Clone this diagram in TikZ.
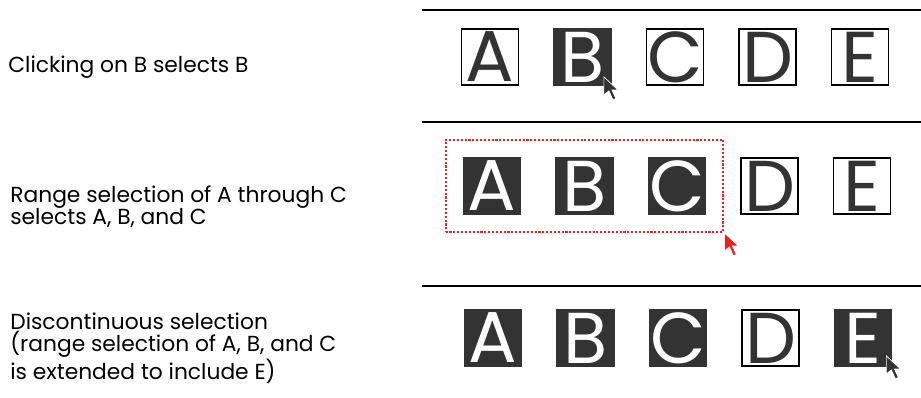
\documentclass[tikz,border=0pt]{standalone}
\usepackage{fontspec}
\setmainfont{Poppins}
\usetikzlibrary{fit}
\definecolor{selgray}{HTML}{333333}
\definecolor{pickred}{HTML}{F02020}

\begin{document}
\begin{tikzpicture}[x=0.02cm, y=-0.02cm,
    keybox/.style={draw=black, line width=1pt, fill=white, text=selgray,
      minimum width=1.14cm, minimum height=1.12cm, inner sep=0pt,
      font=\fontsize{41}{41}\selectfont},
    keysel/.style={keybox, draw=selgray, fill=selgray, text=white},
    caption/.style={anchor=west, align=left, inner sep=0pt,
      font=\fontsize{12.4}{12.6}\selectfont},
    pics/pointer/.style={code={
      \filldraw[fill=#1, draw=white, line width=0.4pt]
        (0,0) -- (0,18) -- (5,14) -- (9,23) -- (12,21.5) -- (8,13) -- (14,13) -- cycle;}}]
  \useasboundingbox (0,0) rectangle (921,398);
  % rules between the three cases
  \foreach \y in {10,122,286}
    \draw[line width=1.1pt] (422,\y) -- (921,\y);

  % case 1: single click
  \node[caption] (clickcap) at (8,67) {Clicking on B selects B};
  \foreach \L/\s [count=\i from 0] in {A/keybox,B/keysel,C/keybox,D/keybox,E/keybox}
    \node[\s] (r1\L) at (490+\i*92.5,57) {\L};
  \pic at ([shift={(-8,-9)}]r1B.south east) {pointer=selgray};

  % case 2: range selection
  \node[caption] (rangecap) at (10,207) {Range selection of A through C\\selects A, B, and C};
  \foreach \L/\s [count=\i from 0] in {A/keysel,B/keysel,C/keysel,D/keybox,E/keybox}
    \node[\s] (r2\L) at (492+\i*92.5,186) {\L};
  \node[fit=(r2A)(r2C), draw=pickred, densely dotted, line width=1.2pt, inner sep=0.34cm] (range) {};
  \pic at (range.south east) {pointer=pickred};

  % case 3: discontinuous selection
  \node[caption] (disccap) at (10,348) {Discontinuous selection\\(range selection of A, B, and C\\is extended to include E)};
  \foreach \L/\s [count=\i from 0] in {A/keysel,B/keysel,C/keysel,D/keybox,E/keysel}
    \node[\s] (r3\L) at (493+\i*92.5,338) {\L};
  \pic at ([shift={(-6,-11)}]r3E.south east) {pointer=selgray};
\end{tikzpicture}
\end{document}
